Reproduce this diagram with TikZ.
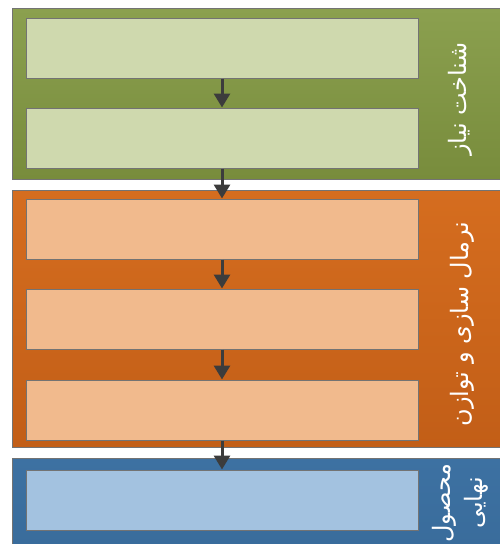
\documentclass[tikz,border=0pt]{standalone}
\usepackage{fontspec}
\newfontfamily\arabicfont[Script=Arabic]{DejaVu Sans}
\TeXXeTstate=1
\usetikzlibrary{arrows.meta}
\definecolor{greenTop}{HTML}{8BA04F}
\definecolor{greenBot}{HTML}{788C3C}
\definecolor{greenIn}{HTML}{CFD9AE}
\definecolor{orangeTop}{HTML}{D56D1F}
\definecolor{orangeBot}{HTML}{C25E17}
\definecolor{orangeIn}{HTML}{F1BA8D}
\definecolor{blueTop}{HTML}{3D71A2}
\definecolor{blueBot}{HTML}{366896}
\definecolor{blueIn}{HTML}{A3C2E0}
\definecolor{arrowGray}{HTML}{3C3C3C}

\begin{document}
\begin{tikzpicture}[x=1pt, y=-1pt,
  panel/.style={draw=black!55, line width=1pt},
  stepbox/.style={draw=black!55, line width=1pt, minimum width=392pt, minimum height=60pt, inner sep=0pt},
  flow/.style={draw=arrowGray, line width=3pt, -{Triangle[width=16pt,length=14pt]}},
  label/.style={text=white, font=\arabicfont\fontsize{24}{32}\selectfont, rotate=90, align=center}]
  \useasboundingbox (0,0) rectangle (499,544);
  % panels
  \shade[panel, top color=greenTop, bottom color=greenBot] (12,8) rectangle (505,179);
  \shade[panel, top color=orangeTop, bottom color=orangeBot] (12,190) rectangle (505,447);
  \shade[panel, top color=blueTop, bottom color=blueBot] (12,458) rectangle (505,620);
  % boxes
  \node[stepbox, fill=greenIn] (g1) at (222,48) {};
  \node[stepbox, fill=greenIn] (g2) at (222,138) {};
  \node[stepbox, fill=orangeIn] (o1) at (222,229) {};
  \node[stepbox, fill=orangeIn] (o2) at (222,319) {};
  \node[stepbox, fill=orangeIn] (o3) at (222,410) {};
  \node[stepbox, fill=blueIn] (b1) at (222,500) {};
  % arrows
  \draw[flow] (g1.south) -- (g2.north);
  \draw[flow] (g2.south) -- (o1.north);
  \draw[flow] (o1.south) -- (o2.north);
  \draw[flow] (o2.south) -- (o3.north);
  \draw[flow] (o3.south) -- (b1.north);
  % titles
  \node[label] (t1) at (460,99) {\beginR شناخت نیاز\endR};
  \node[label] (t2) at (462,324) {\beginR نرمال سازی و توازن\endR};
  \node[label, anchor=east] (t3) at (460,460) {\beginR محصول\endR\\\beginR نهایی\endR};
\end{tikzpicture}
\end{document}
